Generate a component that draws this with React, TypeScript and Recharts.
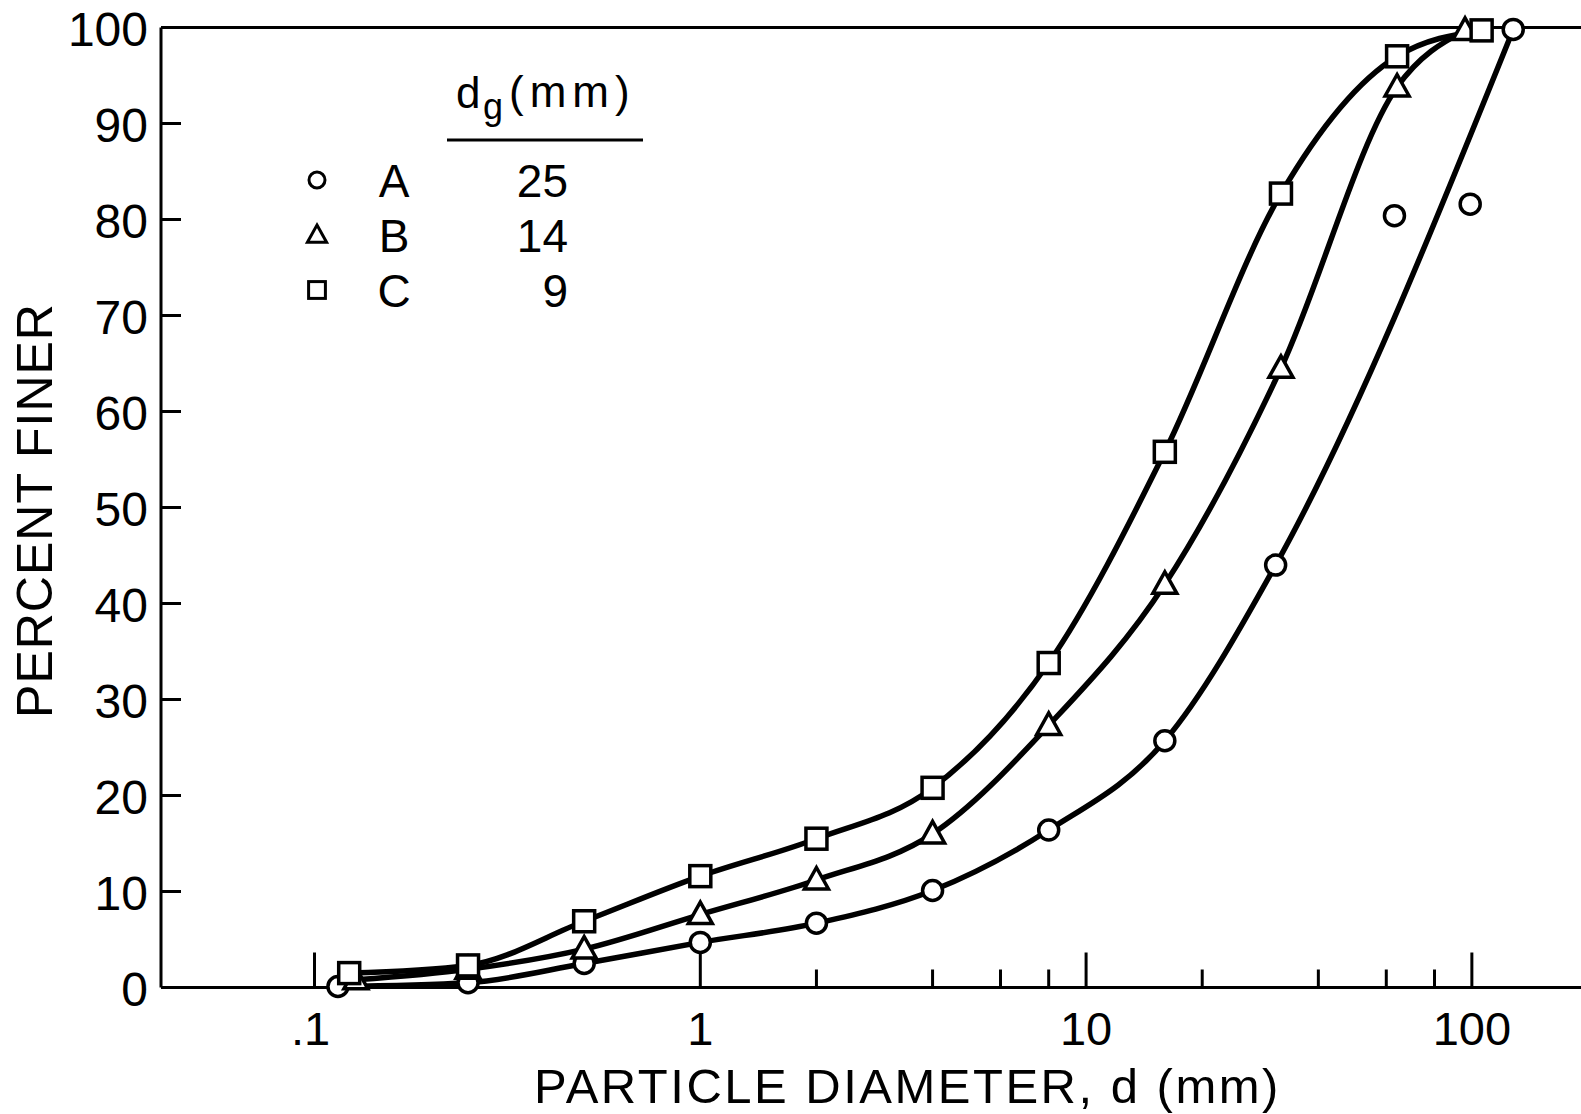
import React from 'react';
import { ComposedChart, Line, XAxis, YAxis, ReferenceLine, Label } from 'recharts';

const FONT = '"Liberation Sans", Arial, "DejaVu Sans", sans-serif';

// Sample A (circles), d_g = 25 mm
const sizesA = [0.115, 0.25, 0.5, 1, 2, 4, 8, 16, 31, 128];
const finerA = [0.1, 0.5, 2.5, 4.7, 6.7, 10.1, 16.4, 25.7, 44.0, 99.8];
// Sample A points not on the fitted curve
const outlierSizesA = [63, 99];
const outlierFinerA = [80.4, 81.6];
// Sample B (triangles), d_g = 14 mm
const sizesB = [0.128, 0.25, 0.5, 1, 2, 4, 8, 16, 32, 64, 96];
const finerB = [0.8, 1.9, 4.0, 7.6, 11.2, 16.0, 27.3, 42.0, 64.5, 93.8, 99.7];
// Sample C (squares), d_g = 9 mm
const sizesC = [0.123, 0.25, 0.5, 1, 2, 4, 8, 16, 32, 64, 106];
const finerC = [1.5, 2.3, 6.9, 11.6, 15.5, 20.8, 33.8, 55.8, 82.7, 97.0, 99.7];

const seriesNames = ['A', 'B', 'C'];
const seriesDg = ['25', '14', '9'];
const seriesShapes = ['circle', 'triangle', 'square'];

const xMajorTicks = [0.1, 1, 10, 100];
const xMajorLabels = ['.1', '1', '10', '100'];
const xMinorTicks = [2, 4, 6, 8, 20, 40, 60, 80];
const yTicks = [0, 10, 20, 30, 40, 50, 60, 70, 80, 90, 100];
const yInnerTicks = [10, 20, 30, 40, 50, 60, 70, 80, 90];

const toPoints = (xs: number[], ys: number[]) => xs.map((x, i) => ({ x, y: ys[i] }));
const dataA = toPoints(sizesA, finerA);
const dataAOut = toPoints(outlierSizesA, outlierFinerA);
const dataB = toPoints(sizesB, finerB);
const dataC = toPoints(sizesC, finerC);

const CHART_W = 1630;
const CHART_H = 1114;

function MarkerShape({ cx, cy, shape, small }: any) {
  if (cx == null || cy == null || isNaN(cx) || isNaN(cy)) return null;
  const k = small ? 0.8 : 1;
  const common = { fill: '#fff', stroke: '#000', strokeWidth: small ? 3 : 3.5 };
  if (shape === 'circle') return <circle cx={cx} cy={cy} r={10 * k} {...common} />;
  if (shape === 'square') {
    const h = 10.5 * k;
    return <rect x={cx - h} y={cy - h} width={2 * h} height={2 * h} {...common} />;
  }
  return (
    <polygon
      points={`${cx},${cy - 12.5 * k} ${cx + 12 * k},${cy + 9 * k} ${cx - 12 * k},${cy + 9 * k}`}
      strokeLinejoin="miter"
      {...common}
    />
  );
}

const makeDot = (shape: string) => (p: any) => (
  <g key={`dot-${shape}-${p.index}`}>
    <MarkerShape cx={p.cx} cy={p.cy} shape={shape} />
  </g>
);

const XTick = (props: any) => {
  const { x, y, payload } = props;
  const v = payload.value;
  const mi = xMajorTicks.indexOf(v);
  const major = mi >= 0;
  return (
    <g>
      <line x1={x} x2={x} y1={y} y2={y - (major ? 35 : 18)} stroke="#000" strokeWidth={3} />
      {major && (
        <text x={x + (v === 0.1 ? -4 : 0)} y={y + 57} textAnchor="middle" fontFamily={FONT} fontSize={47} fill="#000">
          {xMajorLabels[mi]}
        </text>
      )}
    </g>
  );
};

const YTickLeft = (props: any) => {
  const { x, y, payload } = props;
  const v = payload.value;
  const inner = yInnerTicks.includes(v);
  return (
    <g>
      {inner && <line x1={x} x2={x + 20} y1={y} y2={y} stroke="#000" strokeWidth={3} />}
      <text x={x - 13} y={y + 18} textAnchor="end" fontFamily={FONT} fontSize={48} fill="#000">
        {String(v)}
      </text>
    </g>
  );
};

const YTickRight = (props: any) => {
  const { x, y, payload } = props;
  const v = payload.value;
  if (!yInnerTicks.includes(v)) return <g />;
  return <line x1={x} x2={x - 20} y1={y} y2={y} stroke="#000" strokeWidth={3} />;
};

function Legend() {
  const rowBase = [197, 252, 307];
  return (
    <svg width={1581} height={400} style={{ position: 'absolute', left: 0, top: 0, pointerEvents: 'none' }}>
      <text x={456} y={108} fontFamily={FONT} fontSize={44} fill="#000">d</text>
      <text x={483} y={119} fontFamily={FONT} fontSize={36} fill="#000">g</text>
      <text x={509} y={107} fontFamily={FONT} fontSize={44} letterSpacing={6} fill="#000">(mm)</text>
      <line x1={447} x2={643} y1={140} y2={140} stroke="#000" strokeWidth={3} />
      {seriesNames.map((name, i) => (
        <g key={name}>
          <MarkerShape cx={317} cy={rowBase[i] - 17} shape={seriesShapes[i]} small />
          <text x={394} y={rowBase[i]} textAnchor="middle" fontFamily={FONT} fontSize={46} fill="#000">{name}</text>
          <text x={568} y={rowBase[i]} textAnchor="end" fontFamily={FONT} fontSize={46} fill="#000">{seriesDg[i]}</text>
        </g>
      ))}
    </svg>
  );
}

export default function App() {
  return (
    <div style={{ position: 'absolute', left: 0, top: 0, width: 1581, height: 1114, overflow: 'hidden', background: '#fff' }}>
      <ComposedChart width={CHART_W} height={CHART_H} margin={{ top: 27.5, right: 42, bottom: 0, left: 0 }}>
        <XAxis
          dataKey="x"
          type="number"
          scale="log"
          domain={[0.04, 200]}
          allowDataOverflow
          ticks={[...xMajorTicks, ...xMinorTicks]}
          interval={0}
          tickSize={0}
          tickMargin={0}
          tickLine={false}
          tick={<XTick />}
          height={126.5}
          axisLine={{ stroke: '#000', strokeWidth: 3 }}
        >
          <Label
            content={(p: any) => {
              const vb = p.viewBox || { x: 161, width: 1427 };
              return (
                <text x={vb.x + vb.width / 2 + 33} y={1103} textAnchor="middle" fontFamily={FONT} fontSize={49} letterSpacing={2.5} fill="#000">
                  PARTICLE DIAMETER, d (mm)
                </text>
              );
            }}
          />
        </XAxis>
        <YAxis
          yAxisId="left"
          type="number"
          domain={[0, 100]}
          ticks={yTicks}
          interval={0}
          width={161}
          tickSize={0}
          tickMargin={0}
          tickLine={false}
          tick={<YTickLeft />}
          axisLine={{ stroke: '#000', strokeWidth: 3 }}
        >
          <Label
            content={(p: any) => {
              const vb = p.viewBox || { y: 27.5, height: 960 };
              const cy = vb.y + vb.height / 2 + 3;
              return (
                <text transform={`translate(52, ${cy}) rotate(-90)`} textAnchor="middle" fontFamily={FONT} fontSize={50} letterSpacing={1} fill="#000">
                  PERCENT FINER
                </text>
              );
            }}
          />
        </YAxis>
        <YAxis
          yAxisId="right"
          orientation="right"
          type="number"
          domain={[0, 100]}
          ticks={yTicks}
          interval={0}
          width={0}
          tickSize={0}
          tickMargin={0}
          tickLine={false}
          tick={<YTickRight />}
          axisLine={{ stroke: '#000', strokeWidth: 3 }}
        />
        <ReferenceLine yAxisId="left" y={100} stroke="#000" strokeWidth={3} />
        <Line yAxisId="left" data={dataA} dataKey="y" type="monotone" stroke="#000" strokeWidth={5.5} dot={makeDot('circle')} activeDot={false} isAnimationActive={false} />
        <Line yAxisId="left" data={dataB} dataKey="y" type="monotone" stroke="#000" strokeWidth={5.5} dot={makeDot('triangle')} activeDot={false} isAnimationActive={false} />
        <Line yAxisId="left" data={dataC} dataKey="y" type="monotone" stroke="#000" strokeWidth={5.5} dot={makeDot('square')} activeDot={false} isAnimationActive={false} />
        <Line yAxisId="left" data={dataAOut} dataKey="y" type="monotone" stroke="none" dot={makeDot('circle')} activeDot={false} isAnimationActive={false} />
      </ComposedChart>
      <Legend />
    </div>
  );
}
